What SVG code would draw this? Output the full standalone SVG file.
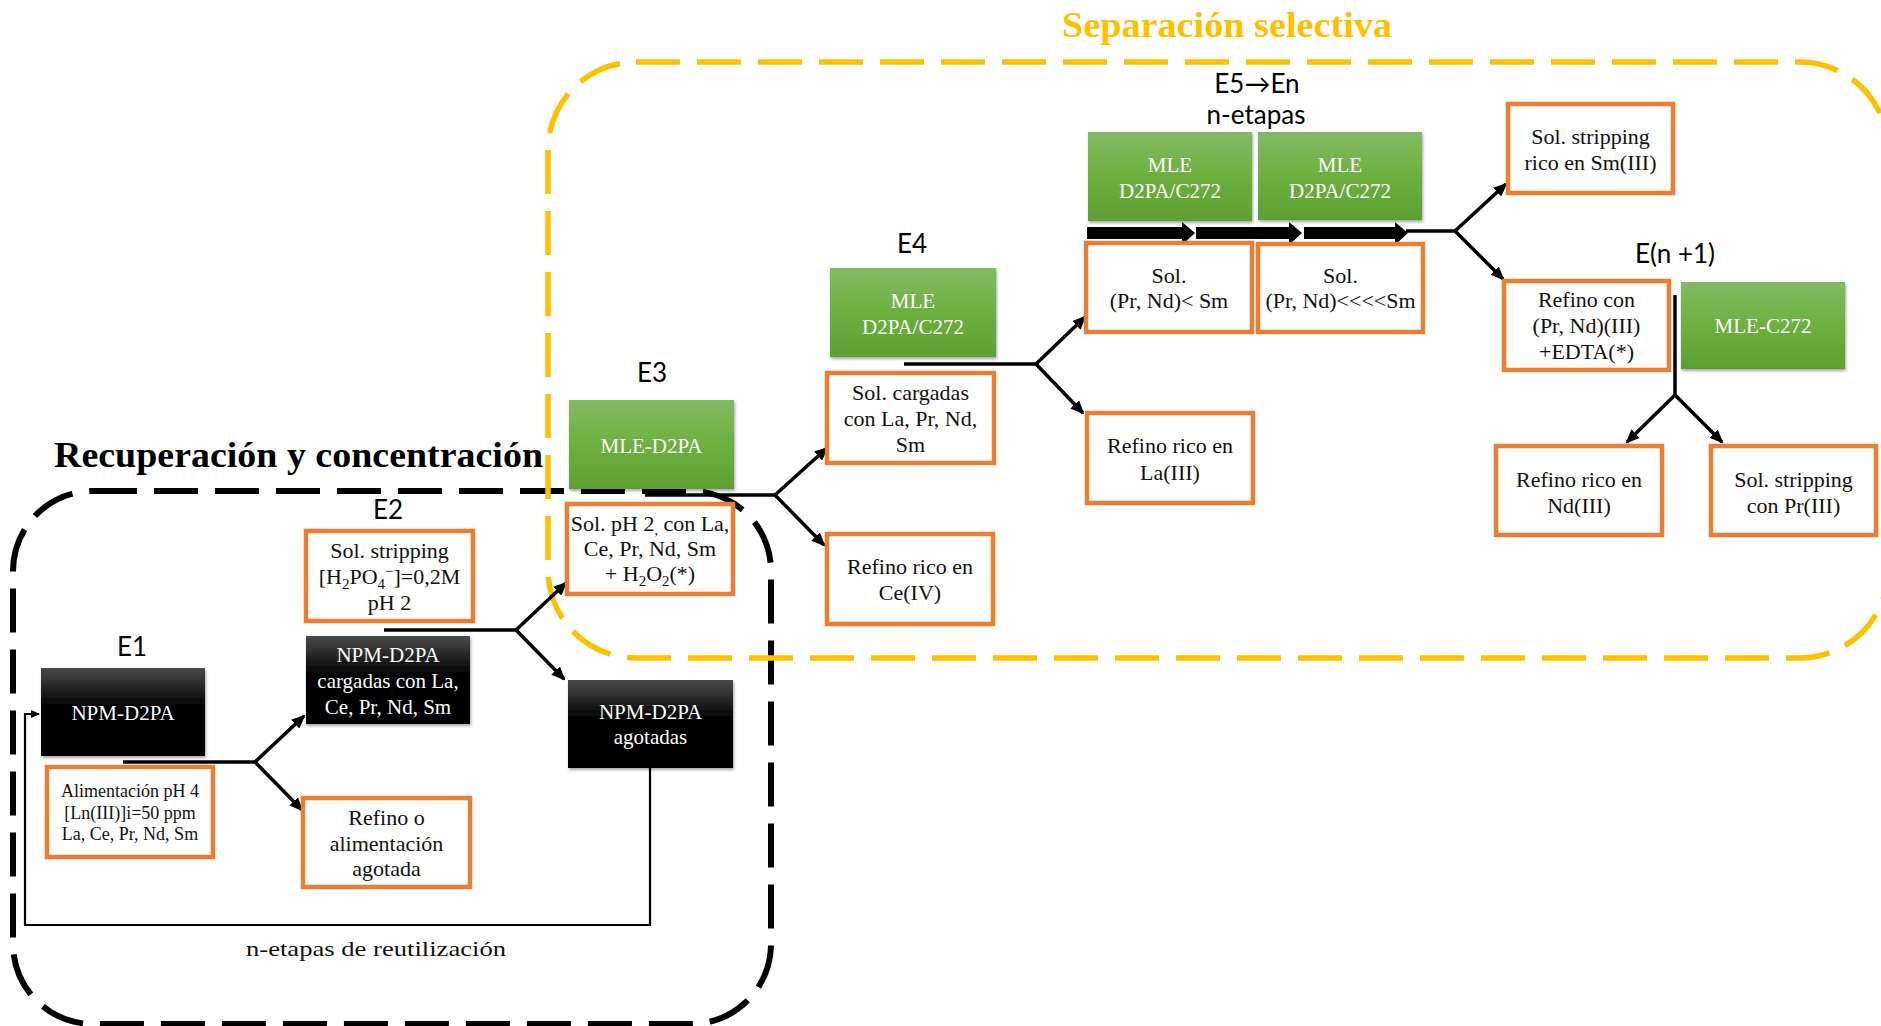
<svg xmlns="http://www.w3.org/2000/svg" width="1881" height="1026" viewBox="0 0 1881 1026">
  <defs>
    <linearGradient id="gGreen" x1="0" y1="0" x2="0" y2="1">
      <stop offset="0" stop-color="#83BA64"/>
      <stop offset="0.5" stop-color="#6DB03F"/>
      <stop offset="1" stop-color="#5E9F33"/>
    </linearGradient>
    <linearGradient id="gBlack" x1="0" y1="0" x2="0" y2="1">
      <stop offset="0" stop-color="#4A4A4A"/>
      <stop offset="0.45" stop-color="#000000"/>
      <stop offset="1" stop-color="#000000"/>
    </linearGradient>
    <filter id="shadow" x="-10%" y="-10%" width="120%" height="130%">
      <feDropShadow dx="1" dy="2" stdDeviation="1.5" flood-color="#000" flood-opacity="0.35"/>
    </filter>
    <marker id="arrow" viewBox="0 0 14 12" markerUnits="userSpaceOnUse" markerWidth="14" markerHeight="12" refX="12" refY="6" orient="auto">
      <path d="M0,0 L14,6 L0,12 Z" fill="#000"/>
    </marker>
    <marker id="arrowSmall" viewBox="0 0 9 8" markerUnits="userSpaceOnUse" markerWidth="9" markerHeight="8" refX="8" refY="4" orient="auto">
      <path d="M0,0 L9,4 L0,8 Z" fill="#000"/>
    </marker>
  </defs>
  <style>
    .box-o { fill: #FFFFFF; stroke: #ED7D31; stroke-width: 4.5; }
    .box-g { fill: url(#gGreen); filter: url(#shadow); }
    .box-k { fill: url(#gBlack); filter: url(#shadow); }
    .t { font-family: "Liberation Serif", "DejaVu Serif", serif; font-size: 22px; text-anchor: middle; fill: #111; }
    .tw { font-family: "Liberation Serif", "DejaVu Serif", serif; font-size: 21px; text-anchor: middle; fill: #FFFFFF; }
    .ts { font-family: "Liberation Serif", "DejaVu Serif", serif; font-size: 18px; text-anchor: middle; fill: #111; }
    .lbl { font-family: Lato, "DejaVu Sans", "Liberation Sans", sans-serif; font-size: 26px; text-anchor: middle; fill: #000; }
    .title { font-family: "Liberation Serif", "DejaVu Serif", serif; font-weight: bold; font-size: 35px; }
    .conn { fill: none; stroke: #000; stroke-width: 3.5; }
    .arr { fill: none; stroke: #000; stroke-width: 3.5; marker-end: url(#arrow); }
    .dash-k { fill: none; stroke: #000; stroke-width: 6; stroke-dasharray: 44 17; }
    .dash-y { fill: none; stroke: #FFC000; stroke-width: 5.5; stroke-dasharray: 44 17; }
  </style>

  <!-- group frames -->
  <g id="frames">
    <rect id="frame-recuperacion" class="dash-k" x="13" y="491" width="758" height="533" rx="80" ry="80"/>
    <rect id="frame-separacion" class="dash-y" x="548" y="62" width="1340" height="596" rx="88" ry="88"/>
    <text class="title" x="1062" y="37" fill="#FFC000" textLength="330" lengthAdjust="spacingAndGlyphs">Separación selectiva</text>
    <text class="title" x="54" y="467" fill="#000" textLength="489" lengthAdjust="spacingAndGlyphs">Recuperación y concentración</text>
  </g>

  <!-- stage labels -->
  <g id="labels">
    <text class="lbl" x="132" y="656">E1</text>
    <text class="lbl" x="388" y="519">E2</text>
    <text class="lbl" x="652" y="382">E3</text>
    <text class="lbl" x="912" y="253">E4</text>
    <text class="lbl" x="1257" y="93" font-size="24">E5→En</text>
    <text class="lbl" x="1256" y="124" font-size="22">n-etapas</text>
    <text class="lbl" x="1675" y="263">E(n +1)</text>
    <text class="t" x="376" y="956" font-size="26" textLength="260" lengthAdjust="spacingAndGlyphs">n-etapas de reutilización</text>
  </g>

  <!-- connectors -->
  <g id="connectors">
    <!-- E1 split -->
    <path class="conn" d="M123,762 H255"/>
    <path class="arr" d="M255,762 L304,716"/>
    <path class="arr" d="M255,762 L302,810"/>
    <!-- E2 split -->
    <path class="conn" d="M384,630 H516"/>
    <path class="arr" d="M516,630 L566,583"/>
    <path class="arr" d="M516,630 L564,679"/>
    <!-- E3 split -->
    <path class="conn" d="M645,495 H775"/>
    <path class="arr" d="M775,495 L827,448"/>
    <path class="arr" d="M775,495 L824,545"/>
    <!-- E4 split -->
    <path class="conn" d="M904,364 H1036"/>
    <path class="arr" d="M1036,364 L1085,317"/>
    <path class="arr" d="M1036,364 L1083,413"/>
    <!-- E5..En staged flow -->
    <path d="M1087,227 H1182 V222 L1195,233 L1182,245 V239 H1087 Z" fill="#000"/>
    <path d="M1196,227 H1289 V222 L1302,233 L1289,245 V239 H1196 Z" fill="#000"/>
    <path d="M1304,227 H1395 V222 L1408,233 L1395,245 V239 H1304 Z" fill="#000"/>
    <path class="conn" d="M1406,231 H1455"/>
    <path class="arr" d="M1455,231 L1506,184"/>
    <path class="arr" d="M1455,231 L1503,279"/>
    <!-- E(n+1) split -->
    <path class="conn" d="M1675,295 V395"/>
    <path class="arr" d="M1675,395 L1627,442"/>
    <path class="arr" d="M1675,395 L1722,442"/>
    <!-- reuse loop -->
    <path d="M650,768 V925 H25 V714 H39" fill="none" stroke="#000" stroke-width="2.2" marker-end="url(#arrowSmall)"/>
  </g>

  <!-- nodes -->
  <g id="n-e1-npm">
    <rect class="box-k" x="41" y="668" width="164" height="88"/>
    <text class="tw" x="123" y="720">NPM-D2PA</text>
  </g>
  <g id="n-e1-feed">
    <rect class="box-o" x="47" y="767" width="166" height="90"/>
    <text class="ts" x="130" y="797">Alimentación pH 4</text>
    <text class="ts" x="130" y="819">[Ln(III)]i=50 ppm</text>
    <text class="ts" x="130" y="840">La, Ce, Pr, Nd, Sm</text>
  </g>
  <g id="n-e2-strip">
    <rect class="box-o" x="306" y="531" width="167" height="90"/>
    <text class="t" x="389.5" y="558">Sol. stripping</text>
    <text class="t" x="389.5" y="584">[H<tspan font-size="15" dy="5">2</tspan><tspan dy="-5">PO</tspan><tspan font-size="15" dy="5">4</tspan><tspan font-size="15" dy="-13">−</tspan><tspan dy="8">]=0,2M</tspan></text>
    <text class="t" x="389.5" y="610">pH 2</text>
  </g>
  <g id="n-e2-npm">
    <rect class="box-k" x="306" y="636" width="164" height="88"/>
    <text class="tw" x="388" y="662">NPM-D2PA</text>
    <text class="tw" x="388" y="688">cargadas con La,</text>
    <text class="tw" x="388" y="714">Ce, Pr, Nd, Sm</text>
  </g>
  <g id="n-e2-refino">
    <rect class="box-o" x="303" y="798" width="167" height="89"/>
    <text class="t" x="386.5" y="825">Refino o</text>
    <text class="t" x="386.5" y="851">alimentación</text>
    <text class="t" x="386.5" y="876">agotada</text>
  </g>
  <g id="n-e3-mle">
    <rect class="box-g" x="569" y="400" width="165" height="89"/>
    <text class="tw" x="651.5" y="453">MLE-D2PA</text>
  </g>
  <g id="n-e3-sol">
    <rect class="box-o" x="567" y="504" width="166" height="90"/>
    <text class="t" x="650" y="531">Sol. pH 2<tspan font-size="14" dy="4">,</tspan><tspan dy="-4"> con La,</tspan></text>
    <text class="t" x="650" y="556">Ce, Pr, Nd, Sm</text>
    <text class="t" x="650" y="581">+ H<tspan font-size="15" dy="5">2</tspan><tspan dy="-5">O</tspan><tspan font-size="15" dy="5">2</tspan><tspan dy="-5">(*)</tspan></text>
  </g>
  <g id="n-e3-npm">
    <rect class="box-k" x="568" y="680" width="165" height="88"/>
    <text class="tw" x="650.5" y="719">NPM-D2PA</text>
    <text class="tw" x="650.5" y="744">agotadas</text>
  </g>
  <g id="n-e4-mle">
    <rect class="box-g" x="830" y="268" width="166" height="89"/>
    <text class="tw" x="913" y="308">MLE</text>
    <text class="tw" x="913" y="334">D2PA/C272</text>
  </g>
  <g id="n-e4-sol">
    <rect class="box-o" x="827" y="373" width="167" height="90"/>
    <text class="t" x="910.5" y="400">Sol. cargadas</text>
    <text class="t" x="910.5" y="426">con La, Pr, Nd,</text>
    <text class="t" x="910.5" y="452">Sm</text>
  </g>
  <g id="n-e4-refino">
    <rect class="box-o" x="827" y="534" width="166" height="90"/>
    <text class="t" x="910" y="574">Refino rico en</text>
    <text class="t" x="910" y="600">Ce(IV)</text>
  </g>
  <g id="n-e5-mle-1">
    <rect class="box-g" x="1088" y="132" width="164" height="89"/>
    <text class="tw" x="1170" y="172">MLE</text>
    <text class="tw" x="1170" y="198">D2PA/C272</text>
  </g>
  <g id="n-e5-mle-2">
    <rect class="box-g" x="1258" y="132" width="164" height="88"/>
    <text class="tw" x="1340" y="172">MLE</text>
    <text class="tw" x="1340" y="198">D2PA/C272</text>
  </g>
  <g id="n-e5-sol-1">
    <rect class="box-o" x="1086" y="243" width="166" height="89"/>
    <text class="t" x="1169" y="283">Sol.</text>
    <text class="t" x="1169" y="308">(Pr, Nd)&lt; Sm</text>
  </g>
  <g id="n-e5-sol-2">
    <rect class="box-o" x="1258" y="244" width="165" height="88"/>
    <text class="t" x="1340.5" y="283">Sol.</text>
    <text class="t" x="1340.5" y="308">(Pr, Nd)&lt;&lt;&lt;&lt;Sm</text>
  </g>
  <g id="n-e5-refino-la">
    <rect class="box-o" x="1087" y="413" width="166" height="90"/>
    <text class="t" x="1170" y="453">Refino rico en</text>
    <text class="t" x="1170" y="480">La(III)</text>
  </g>
  <g id="n-sm">
    <rect class="box-o" x="1508" y="104" width="165" height="89"/>
    <text class="t" x="1590.5" y="144">Sol. stripping</text>
    <text class="t" x="1590.5" y="170">rico en Sm(III)</text>
  </g>
  <g id="n-refino-edta">
    <rect class="box-o" x="1504" y="281" width="165" height="89"/>
    <text class="t" x="1586.5" y="307">Refino con</text>
    <text class="t" x="1586.5" y="333">(Pr, Nd)(III)</text>
    <text class="t" x="1586.5" y="359">+EDTA(*)</text>
  </g>
  <g id="n-en1-mle">
    <rect class="box-g" x="1681" y="282" width="164" height="87"/>
    <text class="tw" x="1763" y="333">MLE-C272</text>
  </g>
  <g id="n-nd">
    <rect class="box-o" x="1496" y="446" width="166" height="89"/>
    <text class="t" x="1579" y="487">Refino rico en</text>
    <text class="t" x="1579" y="513">Nd(III)</text>
  </g>
  <g id="n-pr">
    <rect class="box-o" x="1711" y="446" width="165" height="89"/>
    <text class="t" x="1793.5" y="487">Sol. stripping</text>
    <text class="t" x="1793.5" y="513">con Pr(III)</text>
  </g>
</svg>
